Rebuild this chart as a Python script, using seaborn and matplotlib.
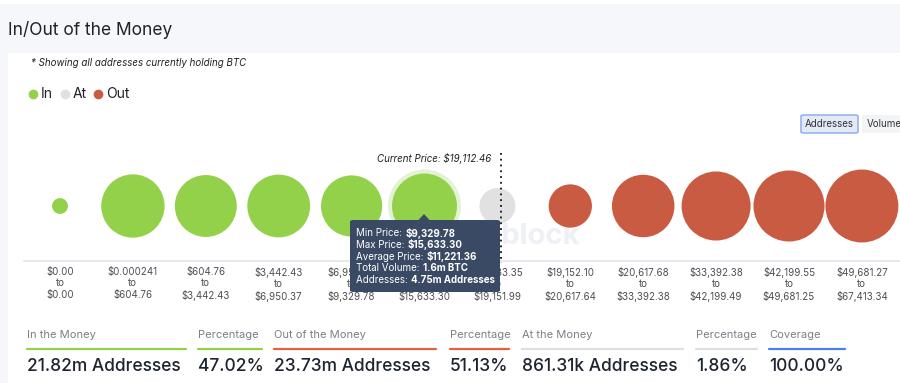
import matplotlib
matplotlib.use("Agg")
import matplotlib.pyplot as plt
from matplotlib.patches import Rectangle, FancyBboxPatch, Polygon
from matplotlib.lines import Line2D
import seaborn as sns
import pandas as pd
import numpy as np

# ---------------- data ----------------
range_low = ["$0.00", "$0.000241", "$604.76", "$3,442.43", "$6,950.37", "$9,329.78",
             "$15,633.35", "$19,152.10", "$20,617.68", "$33,392.38", "$42,199.55", "$49,681.27"]
range_high = ["$0.00", "$604.76", "$3,442.43", "$6,950.37", "$9,329.78", "$15,633.30",
              "$19,151.99", "$20,617.64", "$33,392.38", "$42,199.49", "$49,681.25", "$67,413.34"]
status = ["In", "In", "In", "In", "In", "In", "At", "Out", "Out", "Out", "Out", "Out"]
addresses_m = [0.004, 4.45, 4.20, 4.35, 4.07, 4.75, 0.861, 1.55, 4.30, 5.55, 5.96, 6.37]

legend_labels = ["In", "At", "Out"]
stat_labels = ["In the Money", "Percentage", "Out of the Money", "Percentage",
               "At the Money", "Percentage", "Coverage"]
stat_values = ["21.82m Addresses", "47.02%", "23.73m Addresses", "51.13%",
               "861.31k Addresses", "1.86%", "100.00%"]
tooltip_keys = ["Min Price: ", "Max Price: ", "Average Price: ", "Total Volume: ", "Addresses: "]
tooltip_vals = ["$9,329.78", "$15,633.30", "$11,221.36", "1.6m BTC", "4.75m Addresses"]
current_price = "$19,112.46"
hover_index = 5

# ---------------- style ----------------
sns.set_theme(style="white")
plt.rcParams["font.family"] = ["Inter", "DejaVu Sans"]

GREEN = "#94d14b"
GRAY = "#e1e1e1"
RED = "#c95b43"
palette = {"In": GREEN, "At": GRAY, "Out": RED}

W, H = 900, 383
fig = plt.figure(figsize=(9, 3.83), dpi=100)
fig.patch.set_facecolor("#f6f7fb")


def fx(x):
    return x / W


def fy(y):
    return 1 - y / H


# white card & top strip
fig.patches.append(Rectangle((fx(8), 0), 1, fy(53), transform=fig.transFigure,
                             facecolor="white", edgecolor="none", zorder=-3))
fig.patches.append(Rectangle((0, fy(4)), 1, 1, transform=fig.transFigure,
                             facecolor="white", edgecolor="none", zorder=-3))

# header
fig.text(fx(8), fy(30), "In/Out of the Money", fontsize=12.5, color="#1f2329",
         va="center", ha="left")
fig.text(fx(31), fy(63), "* Showing all addresses currently holding BTC", fontsize=7,
         style="italic", color="#222222", va="center", ha="left")

# legend
leg_x = [33, 65, 98]
for lx, lab in zip(leg_x, legend_labels):
    fig.lines.append(Line2D([fx(lx)], [fy(94)], transform=fig.transFigure, marker="o",
                            markersize=6, color=palette[lab], linestyle="none"))
    fig.text(fx(lx + 8), fy(94), lab, fontsize=10, color="#222222", va="center", ha="left")

# buttons
fig.patches.append(FancyBboxPatch((fx(801), fy(133)), fx(57), 18 / H,
                                  boxstyle="round,pad=0,rounding_size=0.003",
                                  transform=fig.transFigure, facecolor="#e4e9f6",
                                  edgecolor="#8aa7ea", linewidth=1))
fig.text(fx(829.5), fy(124), "Addresses", fontsize=7, color="#333333", va="center", ha="center")
fig.patches.append(Rectangle((fx(862), fy(133)), fx(50), 18 / H, transform=fig.transFigure,
                             facecolor="#f3f4f6", edgecolor="none"))
fig.text(fx(867), fy(124), "Volume", fontsize=7, color="#333333", va="center", ha="left")

# watermark
fig.text(fx(580), fy(236), "intotheblock", fontsize=21, color="#eef0f6", fontweight="bold",
         va="center", ha="right", zorder=-1)

# ---------------- bubbles ----------------
spacing = 72.9
x0 = 60
ax_top, ax_bot = 140, 260
ax = fig.add_axes([0, fy(ax_bot), 1, (ax_bot - ax_top) / H])
ax.set_facecolor("none")
ax.set_xlim(-x0 / spacing, (W - x0) / spacing)
ax.set_ylim(-(ax_bot - 206), 206 - ax_top)

df = pd.DataFrame({
    "pos": range(len(status)),
    "y": [0] * len(status),
    "status": status,
    "addresses": addresses_m,
    "label": [f"{a}\nto\n{b}" for a, b in zip(range_low, range_high)],
})

k = (72 / 100) ** 2 * 4  # px radius^2 -> points^2 area
# square-root radius scale (pixels): r = r0 + slope * sqrt(value)
r0, slope = 7.2, 11.6
size_map = {v: k * (r0 + slope * np.sqrt(v)) ** 2 for v in addresses_m}
halo_r = r0 + slope * np.sqrt(addresses_m[hover_index]) + 4

sns.scatterplot(data=df.iloc[[hover_index]], x="pos", y="y", color="#e3f2d4", s=k * halo_r ** 2,
                edgecolor="none", ax=ax, legend=False, zorder=1, clip_on=False)
sns.scatterplot(data=df, x="pos", y="y", hue="status", palette=palette, size="addresses",
                sizes=size_map, edgecolor="none", ax=ax, legend=False, zorder=2, clip_on=False)

ax.set_xticks(df["pos"])
ax.set_xticklabels(df["label"], fontsize=7, color="#4f4f4f", linespacing=1.18)
ax.tick_params(axis="x", length=0, pad=5)
ax.set_yticks([])
ax.set_xlabel("")
ax.set_ylabel("")
for s in ax.spines.values():
    s.set_visible(False)

# baseline
fig.lines.append(Line2D([fx(24), 1], [fy(260.5), fy(260.5)], transform=fig.transFigure,
                        color="#e7e8f1", linewidth=1.5, zorder=1))

# current price marker
fig.text(fx(491), fy(158), f"Current Price: {current_price}", fontsize=7, style="italic",
         color="#222222", va="center", ha="right")
fig.lines.append(Line2D([fx(501.5), fx(501.5)], [fy(153), fy(263)], transform=fig.transFigure,
                        color="#111111", linewidth=1.3, linestyle=(0, (1, 2.2)), zorder=8))

# tooltip
tip_col = "#3a4a64"
fig.patches.append(FancyBboxPatch((fx(350), fy(292)), fx(150), 72 / H,
                                  boxstyle="round,pad=0,rounding_size=0.004",
                                  transform=fig.transFigure, facecolor=tip_col,
                                  edgecolor="none", zorder=5))
fig.patches.append(Polygon([(fx(418), fy(220.5)), (fx(424), fy(214)), (fx(430), fy(220.5))],
                           closed=True, transform=fig.transFigure, facecolor=tip_col,
                           edgecolor="none", zorder=5))
renderer = fig.canvas.get_renderer()
for i, (kk, vv) in enumerate(zip(tooltip_keys, tooltip_vals)):
    yy = fy(233 + i * 11.8)
    t = fig.text(fx(356), yy, kk, fontsize=7, color="white", va="center", ha="left", zorder=6)
    bb = t.get_window_extent(renderer)
    fig.text((bb.x1 + 0.5) / W, yy, vv, fontsize=7, color="white", fontweight="bold",
             va="center", ha="left", zorder=6)

# ---------------- bottom stats ----------------
stat_x0 = [27, 198, 274, 450, 522, 696, 769]
stat_x1 = [186, 262, 436, 509, 683, 757, 845]
stat_col = [GREEN, GREEN, "#e0603f", "#e0603f", "#dedede", "#dedede", "#4d7ef0"]
for xa, xb, c, lab, val in zip(stat_x0, stat_x1, stat_col, stat_labels, stat_values):
    fig.text(fx(xa), fy(335), lab, fontsize=8, color="#7b8087", va="center", ha="left")
    fig.lines.append(Line2D([fx(xa), fx(xb)], [fy(348.5), fy(348.5)], transform=fig.transFigure,
                            color=c, linewidth=1.6))
    fig.text(fx(xa), fy(366.5), val, fontsize=12.5, color="#1d2430", fontweight="medium",
             va="center", ha="left")

fig.savefig("out.png", dpi=100, facecolor=fig.get_facecolor())
